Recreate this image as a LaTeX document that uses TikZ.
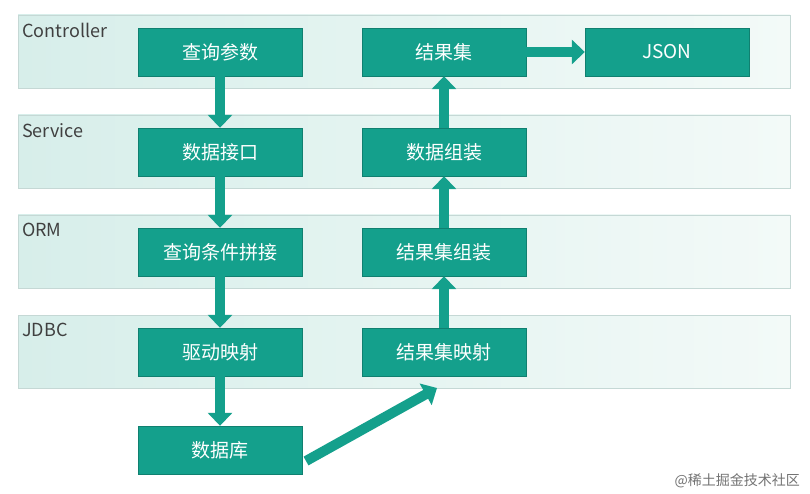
\documentclass[tikz,border=0pt]{standalone}
\usepackage{fontspec}
\setmainfont{Noto Sans CJK SC}
\usetikzlibrary{arrows.meta}
\definecolor{teal1}{HTML}{14A08C}
\definecolor{bandA}{HTML}{D7EEEA}
\definecolor{bandB}{HTML}{F3FAF8}
\tikzset{
  band/.style={draw=bandA!80!gray, line width=0.6pt, left color=bandA, right color=bandB},
  bx/.style={fill=teal1, draw=teal1!80!black, line width=0.4pt, text=white, minimum width=164pt, minimum height=48pt, font=\fontsize{19}{22}\selectfont, inner sep=0pt},
  lbl/.style={anchor=north west, text=black!75, font=\fontsize{18}{21}\selectfont, inner sep=0pt},
  ar/.style={draw=teal1, line width=10pt, -{Triangle[width=24pt,length=13pt]}, fill=teal1}
}
\begin{document}
\begin{tikzpicture}[x=1pt,y=-1pt]
\useasboundingbox (0,0) rectangle (810,494);
\fill[white] (0,0) rectangle (810,494);
\foreach \y/\t [count=\i] in {15/Controller,115/Service,215/ORM,315/JDBC}{
  \path[band] (18,\y) rectangle (790,\y+73);
  \node[lbl] (L\i) at (22,\y+8) {\t};
}
\node[bx] (a1) at (220,52) {查询参数};
\node[bx] (a2) at (220,152) {数据接口};
\node[bx] (a3) at (220,252) {查询条件拼接};
\node[bx] (a4) at (220,352) {驱动映射};
\node[bx] (a5) at (220,450) {数据库};
\node[bx] (b1) at (444,52) {结果集};
\node[bx] (b2) at (444,152) {数据组装};
\node[bx] (b3) at (444,252) {结果集组装};
\node[bx] (b4) at (444,352) {结果集映射};
\node[bx] (j) at (667,52) {JSON};
\draw[ar] (a1.south) -- (a2.north);
\draw[ar] (a2.south) -- (a3.north);
\draw[ar] (a3.south) -- (a4.north);
\draw[ar] (a4.south) -- (a5.north);
\draw[ar] (b4.north) -- (b3.south);
\draw[ar] (b3.north) -- (b2.south);
\draw[ar] (b2.north) -- (b1.south);
\draw[ar] (b1.east) -- (j.west);
\coordinate (d0) at (306,461);
\coordinate (d1) at (437,388);
\draw[ar] (d0) -- (d1);
\node[anchor=south east, text=black!55, font=\fontsize{14}{16}\selectfont, inner sep=0pt] (wm) at (800,488) {@稀土掘金技术社区};
\end{tikzpicture}
\end{document}
